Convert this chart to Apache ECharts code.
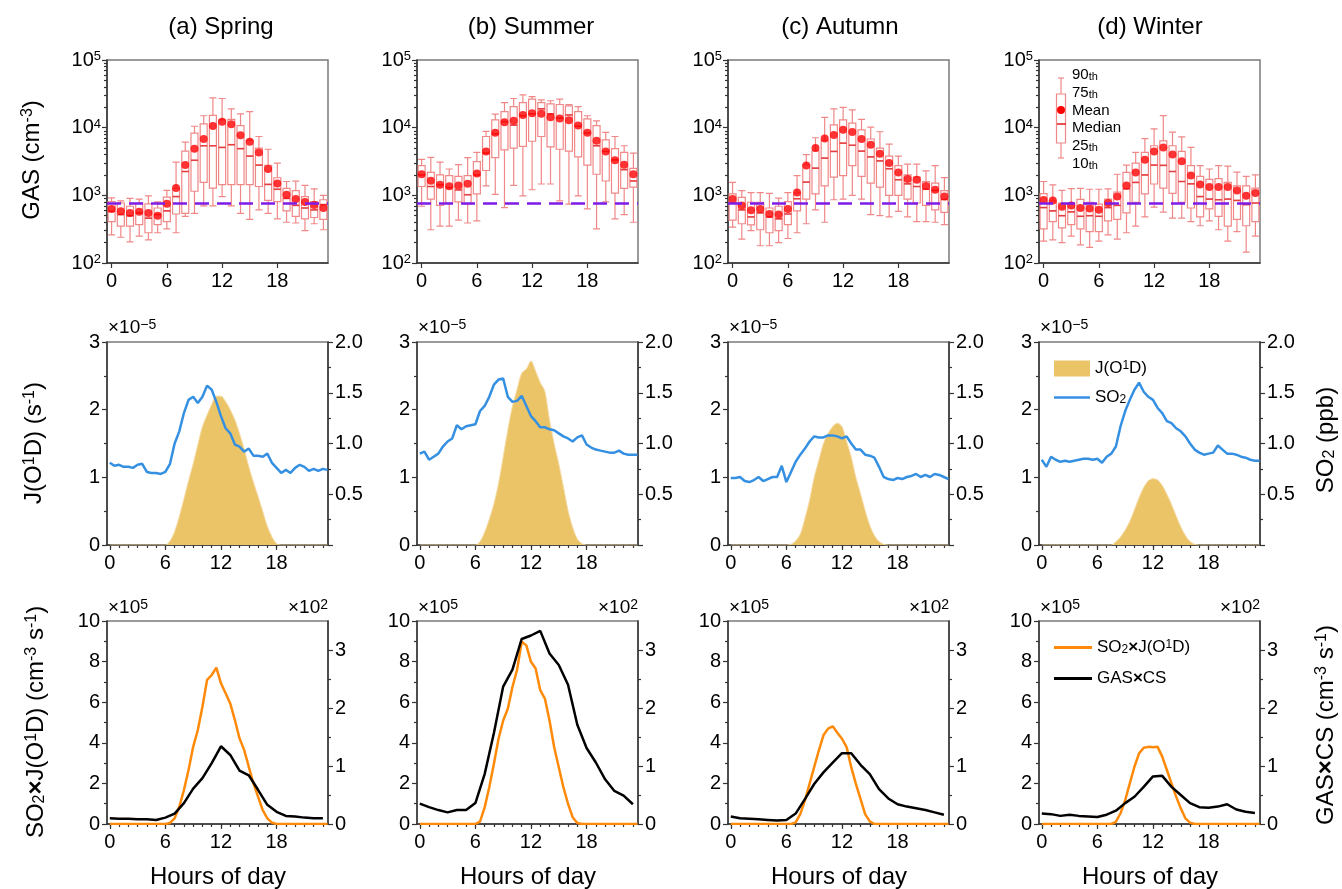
<!doctype html>
<html>
<head>
<meta charset="utf-8">
<title>GAS, J(O1D), SO2 diurnal cycles</title>
<script src="https://cdn.jsdelivr.net/npm/echarts@6/dist/echarts.min.js"></script>
<style>
	html, body { margin: 0; padding: 0; background: #fff; }
	#main { width: 1342px; height: 889px; }
</style>
</head>
<body>
<div id="main"></div>
<script>
// ---------- data ----------
var seasonTitles = ['(a) Spring', '(b) Summer', '(c) Autumn', '(d) Winter'];
var hourList = [0, 1, 2, 3, 4, 5, 6, 7, 8, 9, 10, 11, 12, 13, 14, 15, 16, 17, 18, 19, 20, 21, 22, 23];
var hourTicks = [0, 6, 12, 18];
var gasThreshold = 760;

// GAS percentiles (cm-3), hourly
var springP10 = [260, 240, 205, 250, 220, 280, 320, 280, 490, 540, 700, 700, 960, 700, 540, 440, 610, 540, 450, 400, 390, 300, 380, 310];
var springP25 = [410, 350, 350, 370, 280, 370, 410, 530, 540, 1150, 1550, 1280, 1440, 1440, 1440, 1440, 1350, 840, 810, 590, 490, 450, 470, 440];
var springMed = [580, 520, 500, 550, 460, 520, 590, 960, 2250, 3300, 5400, 5400, 5100, 5600, 4900, 3800, 2800, 1450, 1230, 900, 710, 650, 610, 730];
var springP75 = [810, 770, 690, 770, 750, 650, 940, 1270, 4500, 8300, 11400, 15200, 13000, 13300, 10700, 6500, 5000, 2770, 1820, 1270, 1170, 960, 810, 860];
var springP90 = [920, 830, 900, 880, 980, 800, 1180, 3100, 6100, 10500, 15000, 27500, 27000, 19000, 16000, 17300, 7400, 4800, 3000, 1600, 1620, 1400, 1250, 1000];
var springMean = [630, 580, 550, 570, 550, 500, 750, 1280, 2800, 4900, 6800, 10600, 12200, 11200, 7700, 6200, 4300, 2450, 1500, 1020, 880, 800, 720, 650];

var summerP10 = [690, 310, 350, 350, 430, 390, 420, 1380, 1030, 660, 1400, 980, 1210, 1470, 1470, 830, 740, 980, 630, 320, 800, 450, 520, 400];
var summerP25 = [1350, 880, 710, 770, 800, 750, 1050, 2330, 3600, 4700, 5000, 5300, 6300, 7400, 5200, 4800, 4500, 3700, 2800, 2050, 1630, 1080, 1270, 1320];
var summerMed = [2000, 1350, 1430, 1300, 1200, 1020, 2000, 4200, 8100, 12300, 10900, 15000, 16000, 19000, 16000, 13900, 15400, 10500, 8300, 5400, 4450, 3350, 2400, 1630];
var summerP75 = [2740, 2180, 2000, 1950, 1900, 1950, 3150, 7400, 13000, 17300, 20500, 23500, 26500, 23500, 22500, 22000, 21000, 17300, 13500, 10700, 6600, 4900, 4300, 2500];
var summerP90 = [3400, 3650, 3100, 2450, 2850, 3600, 4300, 8800, 15900, 23400, 27000, 30500, 28700, 25800, 25000, 26500, 22000, 20500, 15000, 12600, 8500, 7400, 5400, 4200];
var summerMean = [2050, 1640, 1430, 1360, 1400, 1480, 2100, 4450, 8400, 12000, 12600, 15400, 16300, 16000, 14200, 13700, 12900, 10800, 8400, 6400, 4450, 3300, 2820, 2050];

var autumnP10 = [340, 225, 300, 180, 180, 200, 230, 280, 380, 610, 400, 860, 880, 1000, 880, 520, 500, 480, 580, 480, 410, 410, 400, 370];
var autumnP25 = [430, 380, 365, 310, 280, 300, 370, 590, 880, 1050, 1380, 1860, 1950, 2750, 1900, 1520, 1320, 1000, 1000, 880, 770, 710, 610, 560];
var autumnMed = [770, 610, 480, 550, 480, 450, 530, 890, 1570, 2520, 3550, 4450, 5900, 5500, 4500, 3700, 3230, 2470, 1700, 1480, 1350, 1230, 1180, 870];
var autumnP75 = [1050, 930, 790, 790, 650, 690, 810, 1080, 2830, 4550, 6500, 11000, 13000, 11700, 9300, 6800, 5000, 3800, 2750, 2000, 1860, 1600, 1520, 1170];
var autumnP90 = [1550, 1170, 1100, 1100, 1070, 910, 1100, 1960, 4000, 7100, 14200, 19000, 20000, 18300, 13300, 10200, 8700, 5700, 3800, 2900, 2900, 2300, 2750, 1830];
var autumnMean = [880, 710, 600, 630, 530, 520, 630, 1100, 2750, 5000, 6900, 7800, 9300, 8600, 6800, 5600, 4100, 3000, 2180, 1740, 1700, 1370, 1210, 960];

var winterP10 = [210, 220, 200, 250, 185, 170, 210, 260, 225, 280, 350, 480, 670, 565, 460, 460, 410, 355, 420, 310, 210, 290, 145, 250];
var winterP25 = [320, 410, 330, 370, 320, 290, 290, 420, 440, 550, 790, 1050, 1470, 1280, 1070, 790, 650, 480, 630, 490, 350, 440, 355, 410];
var winterMed = [660, 590, 500, 570, 490, 500, 490, 660, 710, 1250, 1550, 2000, 2800, 2770, 2250, 1600, 1480, 960, 880, 860, 880, 840, 730, 770];
var winterP75 = [1060, 830, 770, 770, 870, 790, 740, 880, 1120, 2180, 3000, 4300, 5400, 6400, 5400, 4450, 2750, 1900, 1720, 1760, 1550, 1380, 1380, 1280];
var winterP90 = [1600, 1430, 1180, 1260, 1270, 1230, 1230, 1250, 2050, 2800, 4300, 6900, 9600, 15100, 8600, 7300, 5100, 2750, 2450, 2750, 2700, 2200, 1900, 2000];
var winterMean = [850, 840, 680, 710, 650, 640, 610, 770, 960, 1400, 2180, 3350, 4450, 5100, 4000, 3180, 1960, 1450, 1330, 1330, 1330, 1180, 990, 1080];

// J(O1D) (x1e-5 s-1), half-hourly from 0:00 to 23:30
var springJ = [0, 0, 0, 0, 0, 0, 0, 0, 0, 0, 0, 0, 0, 0.06, 0.2, 0.42, 0.68, 0.95, 1.2, 1.48, 1.75, 1.92, 2.08, 2.2, 2.2, 2.12, 2.0, 1.85, 1.65, 1.42, 1.16, 0.93, 0.72, 0.5, 0.28, 0.12, 0.02, 0, 0, 0, 0, 0, 0, 0, 0, 0, 0, 0];
var summerJ = [0, 0, 0, 0, 0, 0, 0, 0, 0, 0, 0, 0, 0, 0.05, 0.19, 0.38, 0.61, 0.91, 1.3, 1.7, 2.05, 2.3, 2.54, 2.6, 2.72, 2.57, 2.4, 2.27, 1.85, 1.5, 1.2, 0.86, 0.51, 0.26, 0.09, 0.02, 0, 0, 0, 0, 0, 0, 0, 0, 0, 0, 0, 0];
var autumnJ = [0, 0, 0, 0, 0, 0, 0, 0, 0, 0, 0, 0, 0, 0.01, 0.06, 0.16, 0.39, 0.66, 1.0, 1.25, 1.5, 1.65, 1.75, 1.8, 1.75, 1.53, 1.3, 1.0, 0.76, 0.51, 0.29, 0.14, 0.05, 0.01, 0, 0, 0, 0, 0, 0, 0, 0, 0, 0, 0, 0, 0, 0];
var winterJ = [0, 0, 0, 0, 0, 0, 0, 0, 0, 0, 0, 0, 0, 0, 0, 0, 0.05, 0.12, 0.22, 0.35, 0.52, 0.7, 0.85, 0.95, 0.98, 0.96, 0.88, 0.75, 0.6, 0.43, 0.27, 0.14, 0.05, 0.01, 0, 0, 0, 0, 0, 0, 0, 0, 0, 0, 0, 0, 0, 0];

// SO2 (ppb), half-hourly
var springSO2 = [0.81, 0.78, 0.79, 0.77, 0.77, 0.76, 0.79, 0.8, 0.72, 0.71, 0.71, 0.7, 0.72, 0.8, 1.0, 1.12, 1.3, 1.43, 1.46, 1.4, 1.46, 1.57, 1.53, 1.41, 1.27, 1.15, 1.1, 0.99, 0.97, 0.92, 0.95, 0.88, 0.88, 0.87, 0.9, 0.81, 0.76, 0.71, 0.74, 0.71, 0.76, 0.79, 0.77, 0.73, 0.75, 0.73, 0.75, 0.74];
var summerSO2 = [0.9, 0.92, 0.84, 0.87, 0.9, 0.97, 1.02, 1.05, 1.18, 1.14, 1.17, 1.18, 1.19, 1.32, 1.37, 1.46, 1.58, 1.63, 1.64, 1.46, 1.41, 1.42, 1.47, 1.37, 1.27, 1.22, 1.16, 1.16, 1.14, 1.13, 1.1, 1.07, 1.05, 1.02, 1.06, 1.08, 0.99, 0.96, 0.94, 0.93, 0.92, 0.91, 0.91, 0.93, 0.9, 0.89, 0.89, 0.89];
var autumnSO2 = [0.66, 0.66, 0.67, 0.63, 0.62, 0.64, 0.67, 0.63, 0.65, 0.67, 0.67, 0.78, 0.62, 0.72, 0.82, 0.89, 0.95, 1.02, 1.07, 1.06, 1.06, 1.08, 1.08, 1.07, 1.05, 1.07, 1.0, 0.94, 0.94, 0.89, 0.88, 0.86, 0.77, 0.67, 0.65, 0.64, 0.66, 0.65, 0.67, 0.68, 0.7, 0.67, 0.69, 0.67, 0.7, 0.69, 0.67, 0.65];
var winterSO2 = [0.84, 0.77, 0.87, 0.84, 0.82, 0.83, 0.82, 0.83, 0.84, 0.85, 0.85, 0.84, 0.85, 0.81, 0.87, 0.9, 0.97, 1.17, 1.32, 1.43, 1.53, 1.6, 1.51, 1.46, 1.43, 1.35, 1.3, 1.22, 1.2, 1.15, 1.12, 1.07, 1.0, 0.94, 0.91, 0.89, 0.9, 0.91, 0.98, 0.94, 0.9, 0.9, 0.89, 0.87, 0.86, 0.84, 0.83, 0.83];

// SO2 x J(O1D) (x1e5 cm-3 s-1), half-hourly
var springProd = [0, 0, 0, 0, 0, 0, 0, 0, 0, 0, 0, 0, 0, 0.05, 0.28, 0.85, 1.67, 2.66, 3.8, 4.63, 5.78, 7.1, 7.34, 7.7, 6.93, 6.44, 5.94, 5.12, 4.22, 3.65, 2.82, 2.0, 1.35, 0.69, 0.28, 0.07, 0, 0, 0, 0, 0, 0, 0, 0, 0, 0, 0, 0];
var summerProd = [0, 0, 0, 0, 0, 0, 0, 0, 0, 0, 0, 0, 0, 0.12, 0.82, 1.81, 2.97, 4.2, 5.1, 5.68, 6.75, 7.6, 8.98, 8.8, 7.99, 7.66, 6.59, 6.18, 5.1, 3.79, 2.8, 1.81, 0.99, 0.33, 0.05, 0, 0, 0, 0, 0, 0, 0, 0, 0, 0, 0, 0, 0];
var autumnProd = [0, 0, 0, 0, 0, 0, 0, 0, 0, 0, 0, 0, 0, 0, 0.08, 0.49, 1.15, 1.98, 2.8, 3.62, 4.37, 4.7, 4.81, 4.5, 4.2, 3.79, 2.8, 1.98, 1.24, 0.49, 0.13, 0, 0, 0, 0, 0, 0, 0, 0, 0, 0, 0, 0, 0, 0, 0, 0, 0];
var winterProd = [0, 0, 0, 0, 0, 0, 0, 0, 0, 0, 0, 0, 0, 0, 0, 0, 0.11, 0.53, 1.18, 2.0, 2.82, 3.48, 3.76, 3.8, 3.78, 3.8, 3.32, 2.66, 2.0, 1.35, 0.77, 0.28, 0.07, 0, 0, 0, 0, 0, 0, 0, 0, 0, 0, 0, 0, 0, 0, 0];

// GAS x CS (x1e2 cm-3 s-1), hourly
var springLoss = [0.1, 0.09, 0.09, 0.08, 0.08, 0.07, 0.11, 0.18, 0.36, 0.61, 0.79, 1.05, 1.34, 1.19, 0.92, 0.84, 0.59, 0.33, 0.21, 0.14, 0.13, 0.11, 0.1, 0.1];
var summerLoss = [0.35, 0.29, 0.24, 0.2, 0.24, 0.24, 0.36, 0.86, 1.57, 2.37, 2.66, 3.19, 3.25, 3.33, 2.94, 2.74, 2.4, 1.71, 1.31, 1.06, 0.77, 0.57, 0.49, 0.34];
var autumnLoss = [0.13, 0.1, 0.09, 0.08, 0.07, 0.06, 0.07, 0.18, 0.43, 0.69, 0.89, 1.06, 1.22, 1.22, 1.02, 0.86, 0.6, 0.44, 0.34, 0.3, 0.27, 0.24, 0.2, 0.16];
var winterLoss = [0.18, 0.17, 0.14, 0.16, 0.14, 0.13, 0.12, 0.16, 0.23, 0.36, 0.47, 0.64, 0.82, 0.83, 0.64, 0.5, 0.36, 0.29, 0.28, 0.3, 0.34, 0.25, 0.21, 0.19];

var boxSets = [
	[springP10, springP25, springMed, springP75, springP90, springMean],
	[summerP10, summerP25, summerMed, summerP75, summerP90, summerMean],
	[autumnP10, autumnP25, autumnMed, autumnP75, autumnP90, autumnMean],
	[winterP10, winterP25, winterMed, winterP75, winterP90, winterMean]
];
var jSets = [springJ, summerJ, autumnJ, winterJ];
var so2Sets = [springSO2, summerSO2, autumnSO2, winterSO2];
var prodSets = [springProd, summerProd, autumnProd, winterProd];
var lossSets = [springLoss, summerLoss, autumnLoss, winterLoss];

// ---------- layout ----------
var gridLefts = [107, 417, 728, 1039];
var gridTops = [60, 342, 621];
var gridW = 221, gridH = 203;
var xMin = -0.3, xMax = 23.55;
var axisColor = '#333';
var frameColor = '#7a7a7a';
var fontFam = '"Liberation Sans", Arial, Helvetica, sans-serif';
var gold = '#ecc468', blue = '#3590e2', orange = '#ff8a0a';

var grids = [], xAxes = [], yAxes = [], series = [], graphics = [];

function pairs(values, step) {
	return values.map(function(v, i) { return [i * step, v]; });
}

function addGrid(row, col) {
	grids.push({
		left: gridLefts[col], top: gridTops[row], width: gridW, height: gridH,
		show: true, borderColor: frameColor, borderWidth: 1.5,
		containLabel: false, outerBoundsMode: 'none'
	});
	return grids.length - 1;
}

var lineAx = { show: true, onZero: false, lineStyle: { color: axisColor, width: 1.5 } };
var hiddenLine = { show: false, onZero: false };
var tickStyle = { color: axisColor, width: 1.2 };
var labelBase = { color: '#000', fontSize: 20, fontFamily: fontFam };

function hourAxis(gi) {
	xAxes.push({
		type: 'value', gridIndex: gi, position: 'bottom', min: xMin, max: xMax,
		axisLine: lineAx,
		axisTick: { show: true, customValues: hourTicks, length: 5, lineStyle: tickStyle },
		axisLabel: Object.assign({ show: true, customValues: hourTicks, margin: 8 }, labelBase),
		splitLine: { show: false }
	});
	var main = xAxes.length - 1;
	xAxes.push({
		type: 'value', gridIndex: gi, position: 'bottom', min: xMin, max: xMax,
		axisLine: hiddenLine,
		axisTick: { show: true, customValues: hourList, length: 3, lineStyle: tickStyle },
		axisLabel: { show: false }, splitLine: { show: false }
	});
	return main;
}

function supLabel(v) {
	var e = Math.round(Math.log(v) / Math.LN10);
	return '{t|10}{e|' + e + '}';
}

var lineIcon = 'path://M0,0H40V3H0Z';

for (var col = 0; col < 4; col++) {
	// ----- row 1 : GAS box plots -----
	var g0 = addGrid(0, col);
	xAxes.push({
		type: 'category', gridIndex: g0, position: 'bottom', data: hourList, boundaryGap: true,
		axisLine: lineAx,
		axisTick: { show: true, alignWithLabel: true, length: 5, lineStyle: tickStyle,
			interval: function(i) { return i % 6 === 0; } },
		axisLabel: Object.assign({ margin: 8, interval: function(i) { return i % 6 === 0; } }, labelBase),
		splitLine: { show: false }
	});
	var bx = xAxes.length - 1;
	yAxes.push({
		type: 'log', logBase: 10, gridIndex: g0, position: 'left', min: 100, max: 100000,
		axisLine: lineAx,
		axisTick: { show: true, length: 5, lineStyle: tickStyle },
		axisLabel: {
			margin: 6, formatter: supLabel,
			rich: {
				t: { fontSize: 20, fontFamily: fontFam, color: '#000' },
				e: { fontSize: 13, fontFamily: fontFam, color: '#000', verticalAlign: 'top' }
			}
		},
		splitLine: { show: false }, minorTick: { show: false }
	});
	var by = yAxes.length - 1;
	yAxes.push({
		type: 'log', logBase: 10, gridIndex: g0, position: 'left', min: 100, max: 100000,
		axisLine: hiddenLine,
		axisTick: { show: true, length: 3, lineStyle: tickStyle,
			customValues: [200, 300, 400, 500, 600, 700, 800, 900, 2000, 3000, 4000, 5000, 6000, 7000, 8000, 9000, 20000, 30000, 40000, 50000, 60000, 70000, 80000, 90000] },
		axisLabel: { show: false }, splitLine: { show: false }
	});

	var set = boxSets[col];
	var boxData = hourList.map(function(h, i) {
		return [set[0][i], set[1][i], set[2][i], set[3][i], set[4][i]];
	});
	series.push({
		type: 'boxplot', xAxisIndex: bx, yAxisIndex: by, data: boxData,
		boxWidth: [7, 7], silent: true, z: 2,
		itemStyle: { color: 'rgba(255,255,255,0)', borderColor: '#f08888', borderWidth: 1.2 }
	});
	series.push({
		type: 'scatter', xAxisIndex: bx, yAxisIndex: by, data: set[2], silent: true, z: 3,
		symbol: 'rect', symbolSize: [7, 1.6], itemStyle: { color: '#e2282c' }
	});
	series.push({
		type: 'scatter', xAxisIndex: bx, yAxisIndex: by, data: set[5], silent: true, z: 4,
		symbol: 'circle', symbolSize: 8, itemStyle: { color: '#ff0000' },
		markLine: {
			silent: true, symbol: 'none', label: { show: false },
			lineStyle: { color: '#7d1ce8', type: [14, 8], width: 2.5 },
			data: [{ yAxis: gasThreshold }]
		}
	});

	// ----- row 2 : J(O1D) and SO2 -----
	var g1 = addGrid(1, col);
	var jx = hourAxis(g1);
	yAxes.push({
		type: 'value', gridIndex: g1, position: 'left', min: 0, max: 3, interval: 1,
		axisLine: lineAx,
		axisTick: { show: true, length: 5, lineStyle: tickStyle },
		minorTick: { show: true, splitNumber: 2, length: 3, lineStyle: tickStyle },
		axisLabel: Object.assign({ margin: 7 }, labelBase),
		splitLine: { show: false }
	});
	var jyL = yAxes.length - 1;
	yAxes.push({
		type: 'value', gridIndex: g1, position: 'right', min: 0, max: 2, interval: 0.5,
		axisLine: lineAx,
		axisTick: { show: true, length: 5, lineStyle: tickStyle },
		minorTick: { show: true, splitNumber: 2, length: 3, lineStyle: tickStyle },
		axisLabel: Object.assign({ margin: 7, formatter: function(v) { return v === 0 ? '' : v.toFixed(1); } }, labelBase),
		splitLine: { show: false }
	});
	var jyR = yAxes.length - 1;
	series.push({
		name: 'J(O1D)', type: 'line', xAxisIndex: jx, yAxisIndex: jyL,
		data: pairs(jSets[col], 0.5), symbol: 'none', smooth: 0.3, silent: true,
		itemStyle: { color: gold },
		lineStyle: { color: '#f4dba6', width: 1 },
		areaStyle: { color: gold, opacity: 1 }, z: 2
	});
	series.push({
		name: 'SO2', type: 'line', xAxisIndex: jx, yAxisIndex: jyR,
		data: pairs(so2Sets[col], 0.5), symbol: 'none', silent: true,
		itemStyle: { color: blue },
		lineStyle: { color: blue, width: 2.5 }, z: 3
	});

	// ----- row 3 : production and loss -----
	var g2 = addGrid(2, col);
	var px = hourAxis(g2);
	yAxes.push({
		type: 'value', gridIndex: g2, position: 'left', min: 0, max: 10, interval: 2,
		axisLine: lineAx,
		axisTick: { show: true, length: 5, lineStyle: tickStyle },
		minorTick: { show: true, splitNumber: 2, length: 3, lineStyle: tickStyle },
		axisLabel: Object.assign({ margin: 7 }, labelBase),
		splitLine: { show: false }
	});
	var pyL = yAxes.length - 1;
	yAxes.push({
		type: 'value', gridIndex: g2, position: 'right', min: 0, max: 3.5,
		axisLine: lineAx,
		axisTick: { show: true, length: 5, lineStyle: tickStyle, customValues: [0, 1, 2, 3] },
		axisLabel: Object.assign({ margin: 7, customValues: [0, 1, 2, 3] }, labelBase),
		splitLine: { show: false }
	});
	var pyR = yAxes.length - 1;
	yAxes.push({
		type: 'value', gridIndex: g2, position: 'right', min: 0, max: 3.5,
		axisLine: hiddenLine,
		axisTick: { show: true, length: 3, lineStyle: tickStyle, customValues: [0.5, 1.5, 2.5] },
		axisLabel: { show: false }, splitLine: { show: false }
	});
	series.push({
		name: 'SO2xJ(O1D)', type: 'line', xAxisIndex: px, yAxisIndex: pyL,
		data: pairs(prodSets[col], 0.5), symbol: 'none', silent: true,
		itemStyle: { color: orange },
		lineStyle: { color: orange, width: 2.5 }, z: 2
	});
	series.push({
		name: 'GASxCS', type: 'line', xAxisIndex: px, yAxisIndex: pyR,
		data: pairs(lossSets[col], 1), symbol: 'none', silent: true,
		itemStyle: { color: '#000' },
		lineStyle: { color: '#000', width: 2.5 }, z: 3
	});
}

// ---------- texts ----------
var titleCenters = [221, 531, 840, 1150];
var footCenters = [218, 528, 839, 1150];
var bigRich = {
	n: { fontSize: 24, fontFamily: fontFam, color: '#000' },
	x: { fontSize: 24, fontFamily: fontFam, color: '#000', fontWeight: 'bold' },
	s: { fontSize: 16, fontFamily: fontFam, color: '#000', verticalAlign: 'top' },
	b: { fontSize: 16, fontFamily: fontFam, color: '#000', verticalAlign: 'bottom' }
};
var expRich = {
	n: { fontSize: 19, fontFamily: fontFam, color: '#000' },
	s: { fontSize: 14, fontFamily: fontFam, color: '#000', verticalAlign: 'top' }
};

function addText(x, y, text, rich, opts) {
	opts = opts || {};
	graphics.push({
		type: 'text', x: x, y: y, rotation: opts.rotation || 0, silent: true,
		style: { text: text, rich: rich, align: opts.align || 'center', verticalAlign: 'middle' }
	});
}

for (var c = 0; c < 4; c++) {
	addText(titleCenters[c], 27, '{n|' + seasonTitles[c] + '}', bigRich);
	addText(footCenters[c], 877, '{n|Hours of day}', bigRich);
	addText(gridLefts[c] + 1, 328, '{n|\u00d710}{s|\u22125}', expRich, { align: 'left' });
	addText(gridLefts[c] + 1, 608, '{n|\u00d710}{s|5}', expRich, { align: 'left' });
	addText(gridLefts[c] + gridW, 608, '{n|\u00d710}{s|2}', expRich, { align: 'right' });
}
addText(32, 160, '{n|GAS (cm}{s|-3}{n|)}', bigRich, { rotation: Math.PI / 2 });
addText(34, 443, '{n|J(O}{s|1}{n|D) (s}{s|-1}{n|)}', bigRich, { rotation: Math.PI / 2 });
addText(36, 722, '{n|SO}{b|2}{x|\u00d7}{n|J(O}{s|1}{n|D) (cm}{s|-3}{n| s}{s|-1}{n|)}', bigRich, { rotation: Math.PI / 2 });
addText(1326, 440, '{n|SO}{b|2}{n| (ppb)}', bigRich, { rotation: Math.PI / 2 });
addText(1326, 725, '{n|GAS}{x|\u00d7}{n|CS (cm}{s|-3}{n| s}{s|-1}{n|)}', bigRich, { rotation: Math.PI / 2 });

// box plot key (winter panel)
var keyRed = '#f08888';
graphics.push(
	{ type: 'line', silent: true, shape: { x1: 1061, y1: 78, x2: 1061, y2: 94 }, style: { stroke: keyRed, lineWidth: 1.2 } },
	{ type: 'line', silent: true, shape: { x1: 1058, y1: 78, x2: 1064, y2: 78 }, style: { stroke: keyRed, lineWidth: 1.2 } },
	{ type: 'rect', silent: true, shape: { x: 1056.5, y: 94, width: 9, height: 49 }, style: { fill: 'none', stroke: keyRed, lineWidth: 1.2 } },
	{ type: 'line', silent: true, shape: { x1: 1057, y1: 124, x2: 1066, y2: 124 }, style: { stroke: '#e2282c', lineWidth: 1.6 } },
	{ type: 'circle', silent: true, shape: { cx: 1061, cy: 110, r: 4 }, style: { fill: '#ff0000' } },
	{ type: 'line', silent: true, shape: { x1: 1061, y1: 143, x2: 1061, y2: 158 }, style: { stroke: keyRed, lineWidth: 1.2 } },
	{ type: 'line', silent: true, shape: { x1: 1058, y1: 158, x2: 1064, y2: 158 }, style: { stroke: keyRed, lineWidth: 1.2 } }
);
var keyRich = {
	n: { fontSize: 15, fontFamily: fontFam, color: '#000' },
	b: { fontSize: 11, fontFamily: fontFam, color: '#000', verticalAlign: 'bottom' }
};
var keyLabels = ['{n|90}{b|th}', '{n|75}{b|th}', '{n|Mean}', '{n|Median}', '{n|25}{b|th}', '{n|10}{b|th}'];
var keyY = [75, 93, 111, 128, 146, 164];
keyLabels.forEach(function(t, i) { addText(1072, keyY[i], t, keyRich, { align: 'left' }); });

// ---------- chart ----------
var legendRich = {
	n: { fontSize: 17, fontFamily: fontFam, color: '#000' },
	x: { fontSize: 17, fontFamily: fontFam, color: '#000', fontWeight: 'bold' },
	s: { fontSize: 12, fontFamily: fontFam, color: '#000', verticalAlign: 'top' },
	b: { fontSize: 12, fontFamily: fontFam, color: '#000', verticalAlign: 'bottom' }
};
var legendNames = {
	'J(O1D)': '{n|J(O}{s|1}{n|D)}',
	'SO2': '{n|SO}{b|2}',
	'SO2xJ(O1D)': '{n|SO}{b|2}{x|\u00d7}{n|J(O}{s|1}{n|D)}',
	'GASxCS': '{n|GAS}{x|\u00d7}{n|CS}'
};
function legendFmt(name) { return legendNames[name]; }

var option = {
	animation: false,
	backgroundColor: '#fff',
	textStyle: { fontFamily: fontFam },
	grid: grids,
	xAxis: xAxes,
	yAxis: yAxes,
	legend: [{
		left: 1049, top: 355, orient: 'vertical', selectedMode: false,
		itemWidth: 36, itemHeight: 16, itemGap: 12,
		data: [{ name: 'J(O1D)', icon: 'rect' }, { name: 'SO2', icon: lineIcon }],
		formatter: legendFmt, textStyle: { rich: legendRich }
	}, {
		left: 1049, top: 634, orient: 'vertical', selectedMode: false,
		itemWidth: 38, itemHeight: 14, itemGap: 14,
		data: [{ name: 'SO2xJ(O1D)', icon: lineIcon }, { name: 'GASxCS', icon: lineIcon }],
		formatter: legendFmt, textStyle: { rich: legendRich }
	}],
	series: series,
	graphic: graphics
};

var chart = echarts.init(document.getElementById('main'), null, { renderer: 'canvas' });
chart.setOption(option);
</script>
</body>
</html>
